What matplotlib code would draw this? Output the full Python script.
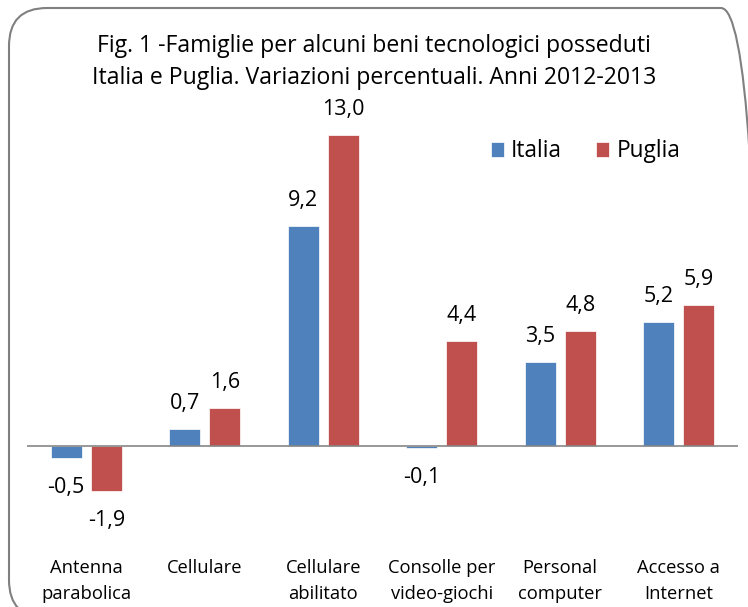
import matplotlib
matplotlib.use("Agg")

import matplotlib.pyplot as plt
from matplotlib.patches import FancyBboxPatch
import numpy as np

categories = ["Antenna\nparabolica", "Cellulare", "Cellulare\nabilitato",
              "Consolle per\nvideo-giochi", "Personal\ncomputer", "Accesso a\nInternet"]
italia = [-0.5, 0.7, 9.2, -0.1, 3.5, 5.2]
puglia = [-1.9, 1.6, 13.0, 4.4, 4.8, 5.9]
series_names = ["Italia", "Puglia"]
title = "Fig. 1 -Famiglie per alcuni beni tecnologici posseduti\nItalia e Puglia. Variazioni percentuali. Anni 2012-2013"

BLUE = "#4F81BD"
RED = "#C0504D"

plt.rcParams["font.family"] = ["Open Sans", "DejaVu Sans"]


def fmt(v):
    return f"{v:.1f}".replace(".", ",")


def main():
    fig = plt.figure(figsize=(7.48, 6.07), dpi=100)

    # background axes in pixel units, used only for the rounded frame
    bg = fig.add_axes([0, 0, 1, 1])
    bg.set_xlim(0, 748)
    bg.set_ylim(0, 607)
    bg.axis("off")
    frame = FancyBboxPatch((9, -11), 750, 610,
                           boxstyle="round,pad=0,rounding_size=38",
                           facecolor="none", edgecolor="#808080", linewidth=1.5,
                           clip_on=False)
    bg.add_patch(frame)

    ax = fig.add_axes([27 / 748, 0.1077, 711 / 748, 0.7282])
    ax.patch.set_alpha(0)

    x = np.arange(len(categories))
    width = 0.262
    gap = 0.038
    b1 = ax.bar(x - width / 2 - gap, italia, width, color=BLUE, label=series_names[0],
                edgecolor="white", linewidth=0.5)
    b2 = ax.bar(x + width / 2 + gap, puglia, width, color=RED, label=series_names[1],
                edgecolor="white", linewidth=0.5)

    for bars, vals in [(b1, italia), (b2, puglia)]:
        for bar, v in zip(bars, vals):
            cx = bar.get_x() + bar.get_width() / 2
            off = 18.5 if v >= 0 else -21
            ax.annotate(fmt(v), (cx, v), xytext=(0, off), textcoords="offset points",
                        ha="center", va="center", fontsize=15.5, color="black")

    ax.set_xlim(-0.5, 5.5)
    ax.set_ylim(-4, 14.5)
    ax.axhline(0, color="#868686", linewidth=1.2)
    for s in ax.spines.values():
        s.set_visible(False)
    ax.set_yticks([])
    ax.set_xticks([])

    for i, c in enumerate(categories):
        ax.text(i, -4.72, c, ha="center", va="top", fontsize=13.2, linespacing=1.55)

    fig.text(0.5, 1 - 62 / 607, title, ha="center", va="center", fontsize=16.6,
             linespacing=1.4)

    ax.legend(loc="center left", bbox_to_anchor=(0.652, 0.883), ncol=2, frameon=False,
              fontsize=16.3, handlelength=0.6, handleheight=0.6, handletextpad=0.3,
              columnspacing=1.5, borderpad=0, borderaxespad=0)

    fig.savefig("out.png", dpi=100)
    plt.close(fig)


if __name__ == "__main__":
    main()
